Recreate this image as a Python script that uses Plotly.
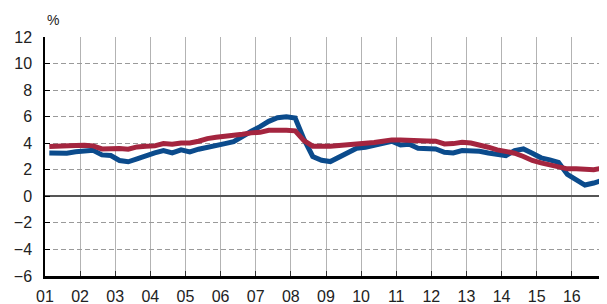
import pandas as pd
import plotly.graph_objects as go

# Quarterly periods 2001Q1 .. 2016Q4
quarters = pd.period_range("2001Q1", "2016Q4", freq="Q")
x_dates = [p.start_time.strftime("%Y-%m-%d") for p in quarters]

blue_values = [
    3.27, 3.25, 3.25, 3.35,
    3.42, 3.47, 3.12, 3.07,
    2.70, 2.60, 2.82, 3.07,
    3.27, 3.45, 3.27, 3.50,
    3.35, 3.55, 3.72, 3.85,
    3.97, 4.12, 4.55, 4.90,
    5.25, 5.65, 5.92, 6.00,
    5.90, 4.30, 3.00, 2.72,
    2.62, 2.95, 3.32, 3.62,
    3.70, 3.87, 4.02, 4.15,
    3.87, 3.92, 3.62, 3.62,
    3.57, 3.32, 3.27, 3.45,
    3.45, 3.40, 3.27, 3.15,
    3.07, 3.45, 3.57, 3.25,
    2.90, 2.75, 2.55, 1.65,
    1.25, 0.85, 1.00, 1.20,
]

red_values = [
    3.75, 3.75, 3.77, 3.82,
    3.85, 3.80, 3.57, 3.62,
    3.60, 3.55, 3.72, 3.77,
    3.80, 3.97, 3.92, 4.02,
    4.02, 4.15, 4.35, 4.45,
    4.50, 4.60, 4.68, 4.78,
    4.82, 4.98, 5.02, 4.98,
    4.93, 4.20, 3.78, 3.75,
    3.77, 3.82, 3.87, 3.95,
    3.95, 4.05, 4.15, 4.25,
    4.25, 4.25, 4.17, 4.17,
    4.15, 3.95, 3.97, 4.07,
    4.02, 3.90, 3.70, 3.50,
    3.40, 3.25, 3.00, 2.70,
    2.52, 2.40, 2.27, 2.07,
    2.07, 2.02, 2.00, 2.12,
]

year_ticks = [f"{y}-01-01" for y in range(2001, 2017)]
year_labels = [f"{y % 100:02d}" for y in range(2001, 2017)]
y_ticks = [-6, -4, -2, 0, 2, 4, 6, 8, 10, 12]

BLUE = "#0b4b8c"
RED = "#a4253f"
FONT = "Liberation Sans, Arial, Helvetica, sans-serif"

fig = go.Figure()
fig.add_trace(go.Scatter(
    x=x_dates, y=blue_values, mode="lines",
    xperiod="M3", xperiodalignment="middle",
    line=dict(color=BLUE, width=5), showlegend=False, hoverinfo="skip",
))
fig.add_trace(go.Scatter(
    x=x_dates, y=red_values, mode="lines",
    xperiod="M3", xperiodalignment="middle",
    line=dict(color=RED, width=5), showlegend=False, hoverinfo="skip",
))

# the page body adds an 8px offset, so the figure is sized to fit the window
fig.update_layout(
    width=599, height=296,
    margin=dict(l=37, r=0, t=29, b=28, autoexpand=False),
    paper_bgcolor="white", plot_bgcolor="white",
    font=dict(family=FONT, size=16, color="#222222"),
    xaxis=dict(
        type="date", automargin=False,
        range=["2001-01-01", "2017-01-01"],
        tickvals=year_ticks, ticktext=year_labels,
        showgrid=True, gridcolor="#b3b3b3", gridwidth=1.3,
        showline=True, linecolor="black", linewidth=2.5,
        ticks="inside", ticklen=5, tickcolor="#333333", tickwidth=1.3,
        zeroline=False, fixedrange=True,
        ticklabelstandoff=4,
        tickfont=dict(size=16, color="#222222"),
    ),
    yaxis=dict(
        automargin=False,
        range=[-6, 12],
        tickvals=y_ticks,
        showgrid=True, gridcolor="#9a9a9a", gridwidth=1, griddash="5px,3px",
        showline=True, linecolor="black", linewidth=1.5,
        ticks="inside", ticklen=5, tickcolor="black", tickwidth=1.3,
        zeroline=True, zerolinecolor="#555555", zerolinewidth=1.5,
        ticklabelstandoff=8,
        tickfont=dict(size=16, color="#222222"),
        fixedrange=True,
    ),
    annotations=[dict(
        text="%", xref="paper", yref="paper", x=0, y=1 + 17 / 239,
        xanchor="left", yanchor="middle", showarrow=False,
        font=dict(size=14, color="#222222", family=FONT),
    )],
)

fig.write_html("out.html")
